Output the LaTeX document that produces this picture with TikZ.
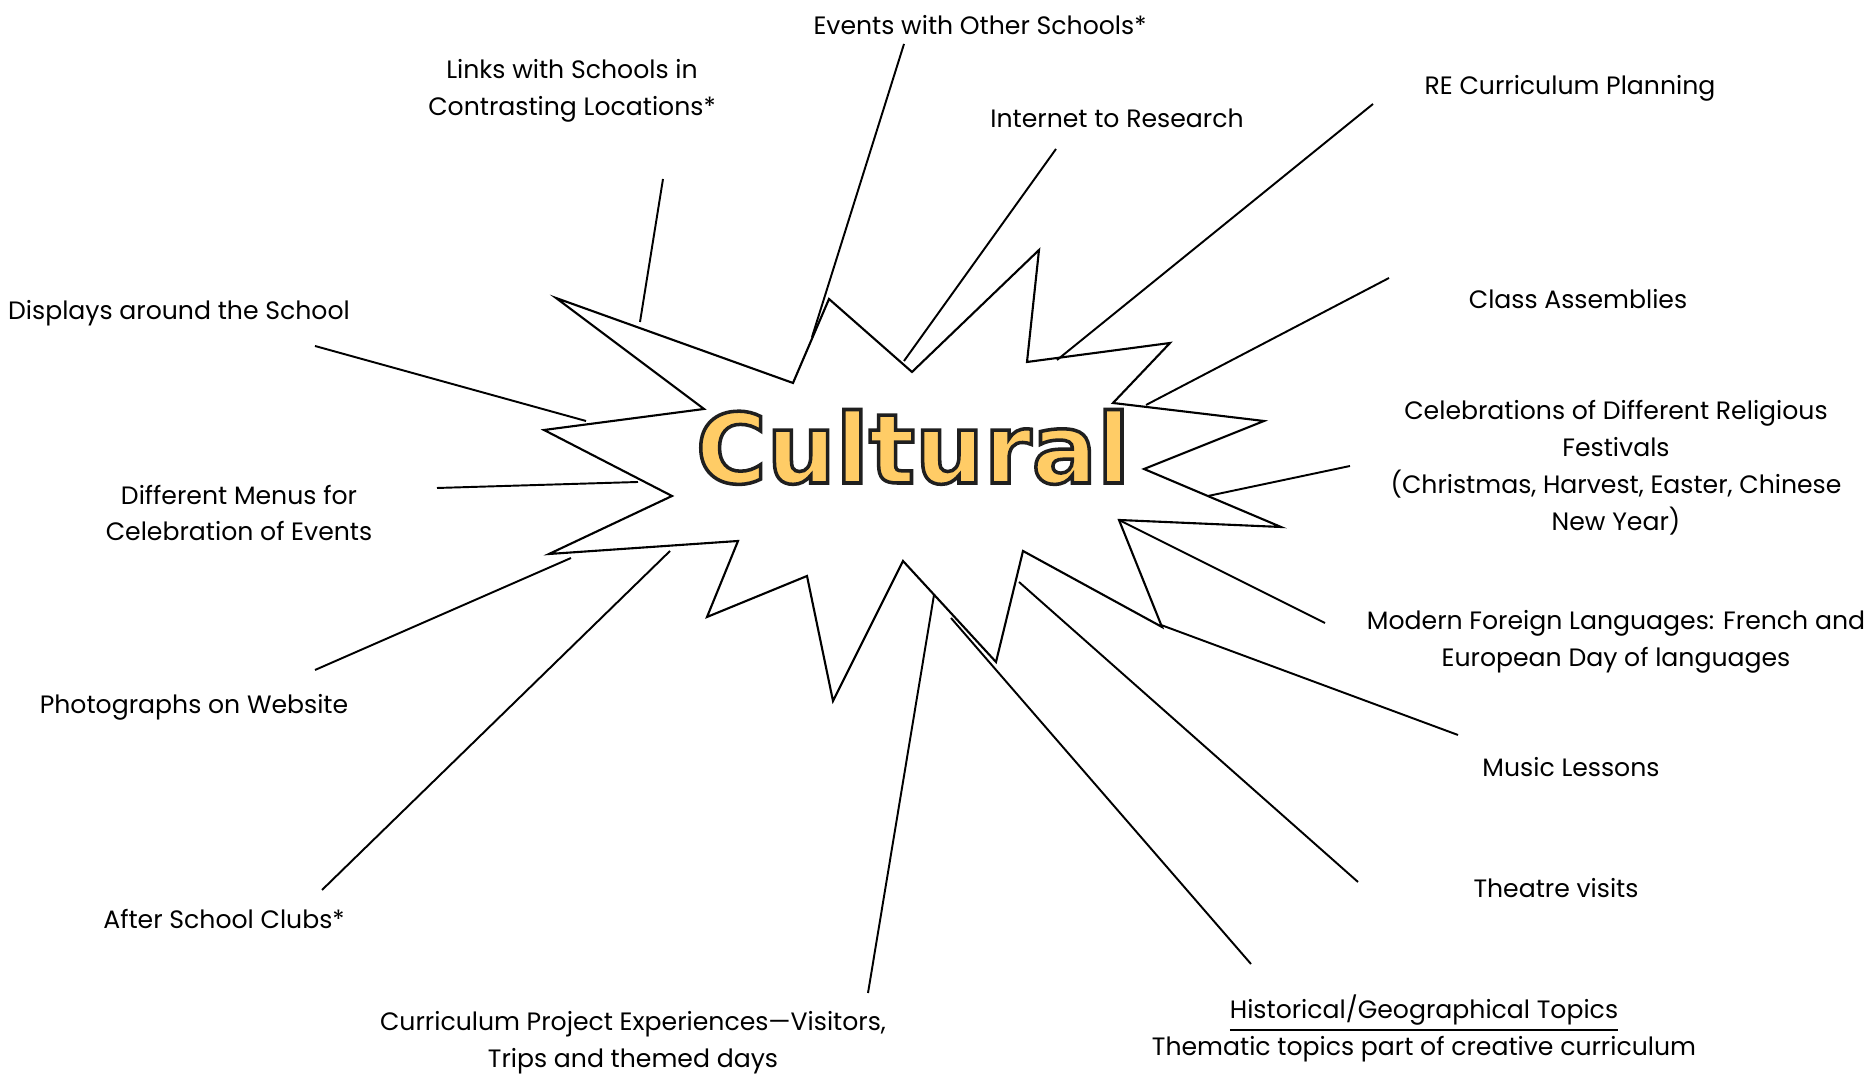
\documentclass[tikz,border=0pt]{standalone}
\usepackage{fontspec}
\setmainfont{Poppins}
\newfontfamily\titlefont{DejaVu Sans}
\definecolor{cultfill}{RGB}{255,204,102}
% filled letters with a dark stroke round them
\newcommand\outlinetext[1]{\special{pdf:literal direct 2 Tr 1 w 0.12 0.12 0.12 RG}#1\special{pdf:literal direct 0 Tr}}
\tikzset{
  lbl/.style={font=\fontsize{7.15}{10.5}\selectfont, align=center, inner sep=0pt, yshift=-0.3mm},
  burst/.style={line width=0.6pt, line join=miter},
  spoke/.style={line width=0.55pt}
}

\begin{document}
\begin{tikzpicture}[x=0.01cm,y=-0.01cm]
\useasboundingbox[fill=white] (0,0) rectangle (1872,1077);

% burst outline
\foreach \px/\py [count=\i] in {556/298,793/383,829/299,912/372,1039/250,1027/362,
  1170/343,1113/403,1264/421,1144/469,1281/527,1119/520,1162/627,1023/551,
  996/662,903/561,833/701,807/576,707/617,738/541,549/554,672/496,544/430,704/409}
  \coordinate (s\i) at (\px,\py);
\draw[burst] (s1) \foreach \i in {2,...,24}{ -- (s\i)} -- cycle;

\node[font=\titlefont\bfseries\fontsize{27.5}{30}\selectfont, text=cultfill, inner sep=0pt, anchor=base]
  (title) at (913,483) {\outlinetext{Cultural}};

% spokes
\foreach \n/\ox/\oy/\ix/\iy in {links/663/179/640/322, events/904/44/812/337,
  internet/1056/149/904/361, re/1373/104/1057/360, class/1389/278/1146/405,
  festivals/1350/466/1208/496, languages/1325/623/1121/521, music/1458/735/1161/625,
  theatre/1358/882/1019/582, topics/1251/964/951/618, curriculum/868/993/934/595,
  clubs/322/890/670/551, photos/315/670/571/558, menus/437/488/638/482,
  displays/315/346/586/421}{
  \coordinate (\n-out) at (\ox,\oy);
  \coordinate (\n-in) at (\ix,\iy);
  \draw[spoke] (\n-out) -- (\n-in);
}

% labels
\node[lbl] (events) at (980,22) {Events with Other Schools*};
\node[lbl] (links) at (572,88) {Links with Schools in\\Contrasting Locations*};
\node[lbl] (internet) at (1117,115) {Internet to Research};
\node[lbl] (re) at (1570,85) {RE Curriculum Planning};
\node[lbl] (displays) at (179,310) {Displays around the School};
\node[lbl] (class) at (1578,296) {Class Assemblies};
\node[lbl] (festivals) at (1616,465) {Celebrations of Different Religious\\Festivals\\(Christmas, Harvest, Easter, Chinese\\New Year)};
\node[lbl] (menus) at (239,510) {Different Menus for\\Celebration of Events};
\node[lbl] (languages) at (1616,639) {Modern Foreign Languages: French and\\European Day of languages};
\node[lbl] (photos) at (194,704) {Photographs on Website};
\node[lbl] (music) at (1571,764) {Music Lessons};
\node[lbl] (theatre) at (1556,885) {Theatre visits};
\node[lbl] (clubs) at (224,916) {After School Clubs*};
\node[lbl] (curriculum) at (633,1040) {Curriculum Project Experiences—Visitors,\\Trips and themed days};
\node[lbl] (topics) at (1424,1025) {\underline{Historical/Geographical Topics}\\Thematic topics part of creative curriculum};

\end{tikzpicture}
\end{document}
